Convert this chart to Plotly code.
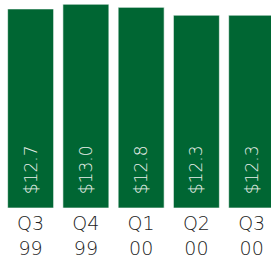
import plotly.graph_objects as go

quarters = ["Q3<br>99", "Q4<br>99", "Q1<br>00", "Q2<br>00", "Q3<br>00"]
values = [12.7, 13.0, 12.8, 12.3, 12.3]
labels = ["$12.7", "$13.0", "$12.8", "$12.3", "$12.3"]

fig = go.Figure(go.Bar(
    x=list(range(len(quarters))),
    y=values,
    text=["\u00a0\u00a0" + t for t in labels],
    textposition="inside",
    insidetextanchor="start",
    textangle=-90,
    textfont=dict(family="DejaVu Sans, sans-serif", size=17, color="#e8efe9", weight=200),
    marker=dict(color="#006633", line=dict(color="rgba(255,255,255,0.6)", width=1)),
    cliponaxis=False,
))

fig.update_layout(
    width=271, height=258,
    margin=dict(l=3, r=0, t=0, b=50),
    paper_bgcolor="white", plot_bgcolor="white",
    bargap=0.168,
    showlegend=False,
    xaxis=dict(
        tickmode="array", tickvals=list(range(len(quarters))), ticktext=quarters,
        range=[-0.5, 4.35], showgrid=False, zeroline=False, showline=False,
        tickfont=dict(family="DejaVu Sans, sans-serif", size=19, color="#222222", weight=200),
        ticks="", ticklen=0, automargin=False, ticklabelstandoff=2,
    ),
    yaxis=dict(range=[0, 13.27], visible=False, automargin=False),
    uniformtext=dict(mode=False),
)

fig.write_html("out.html", config={"displayModeBar": False},
               post_script="document.body.style.margin='0px';document.body.style.overflow='hidden';")
